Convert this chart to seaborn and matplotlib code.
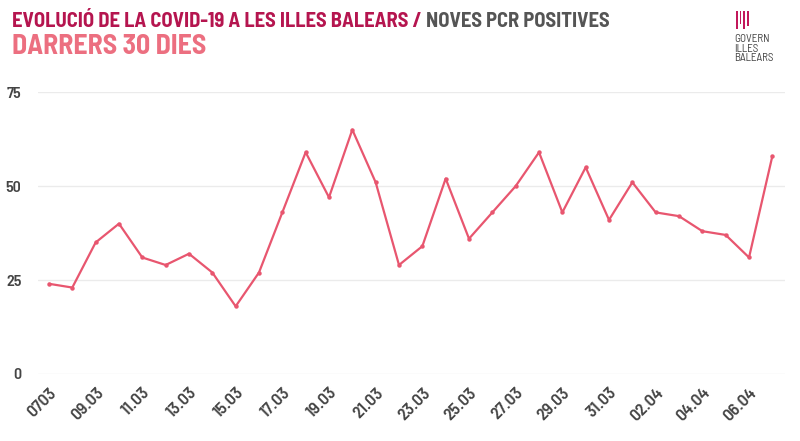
import matplotlib.pyplot as plt
from matplotlib.patches import Rectangle
import pandas as pd
import seaborn as sns

dates = ['07.03', '08.03', '09.03', '10.03', '11.03', '12.03', '13.03', '14.03',
         '15.03', '16.03', '17.03', '18.03', '19.03', '20.03', '21.03', '22.03',
         '23.03', '24.03', '25.03', '26.03', '27.03', '28.03', '29.03', '30.03',
         '31.03', '01.04', '02.04', '03.04', '04.04', '05.04', '06.04', '07.04']
pcr_positives = [24, 23, 35, 40, 31, 29, 32, 27, 18, 27, 43, 59, 47, 65, 51, 29,
                 34, 52, 36, 43, 50, 59, 43, 55, 41, 51, 43, 42, 38, 37, 31, 58]
tick_labels = ['0703', '09.03', '11.03', '13.03', '15.03', '17.03', '19.03', '21.03',
               '23.03', '25.03', '27.03', '29.03', '31.03', '02.04', '04.04', '06.04']

LINE = '#e8566f'
DARK = '#b5154f'
GREY = '#555555'
PINK = '#ec6f80'

sns.set_theme(style='white')
plt.rcParams['font.family'] = ['Barlow Semi Condensed', 'DejaVu Sans']

df = pd.DataFrame({'day': range(len(dates)), 'value': pcr_positives})

fig = plt.figure(figsize=(8, 4.41), dpi=100)
ax = fig.add_axes([0.0475, 0.152, 0.934, 0.639])
sns.lineplot(data=df, x='day', y='value', ax=ax, color=LINE, linewidth=1.6,
             marker='o', markersize=3.2, markeredgewidth=0)

ax.set_ylim(0, 75)
ax.set_xlim(-0.47, 31.55)
ax.set_yticks([0, 25, 50, 75])
ax.set_xticks(range(0, 31, 2))
ax.set_xticklabels(tick_labels, rotation=45, ha='right', rotation_mode='anchor')
ax.tick_params(axis='y', length=0, colors='#444444', labelsize=11.5, pad=12)
ax.tick_params(axis='x', length=0, colors='#444444', labelsize=12.5, pad=8)
for lbl in ax.get_xticklabels() + ax.get_yticklabels():
    lbl.set_fontweight('semibold')
ax.set_xlabel('')
ax.set_ylabel('')
ax.grid(axis='y', color='#ebebeb', linewidth=1)
ax.set_axisbelow(True)
for s in ax.spines.values():
    s.set_visible(False)

# titles
t1 = fig.text(0.015, 0.938, 'EVOLUCIÓ DE LA COVID-19 A LES ILLES BALEARS /',
              color=DARK, fontsize=14.8, fontweight='bold', va='baseline')
fig.canvas.draw()
bb = t1.get_window_extent()
fig.text((bb.x1 + 4) / fig.bbox.width, 0.938, 'NOVES PCR POSITIVES',
         color=GREY, fontsize=14.8, fontweight='bold', va='baseline')
fig.text(0.015, 0.877, 'DARRERS 30 DIES', color=PINK, fontsize=20,
         fontweight='bold', va='baseline')

# logo
for i, h in enumerate([0.04, 0.03, 0.04, 0.035]):
    fig.add_artist(Rectangle((0.92 + i * 0.0045, 0.975 - h), 0.0022, h,
                             transform=fig.transFigure, color='#c2185b', lw=0))
fig.text(0.918, 0.89, 'GOVERN\nILLES\nBALEARS', color='#444444', fontsize=8,
         va='center', ha='left', linespacing=0.95)

plt.savefig('out.png', dpi=100)
plt.close()
